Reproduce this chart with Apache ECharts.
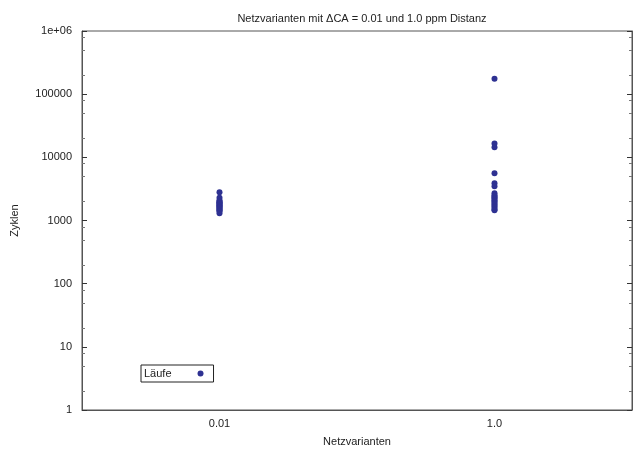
<!DOCTYPE html>
<html>
<head>
<meta charset="utf-8">
<script src="https://cdn.jsdelivr.net/npm/echarts@6/dist/echarts.min.js"></script>
<style>html,body{margin:0;padding:0;background:#fff}#c{width:633px;height:452px}</style>
</head>
<body>
<div id="c"></div>
<script>
const categories = ['0.01', '1.0'];
const runs001 = [2800, 2300, 2100, 2000, 1950, 1900, 1850, 1800, 1750, 1700, 1650, 1600, 1550, 1500, 1450, 1400, 1300];
const runs10 = [175000, 16500, 14500, 5600, 3900, 3500, 2700, 2500, 2400, 2300, 2200, 2100, 2000, 1900, 1800, 1700, 1600, 1500, 1450];
const minorTickValues = [2, 5, 8, 20, 50, 80, 200, 500, 800, 2000, 5000, 8000, 20000, 50000, 80000, 200000, 500000, 800000];

const FONT = 'Liberation Sans, Arial, sans-serif';
const pts = [];
runs001.forEach(v => pts.push([categories[0], v]));
runs10.forEach(v => pts.push([categories[1], v]));

const chart = echarts.init(document.getElementById('c'), null, {renderer: 'canvas'});
chart.setOption({
  animation: false,
  backgroundColor: '#fff',
  title: {
    text: 'Netzvarianten mit ΔCA = 0.01 und 1.0 ppm Distanz',
    left: 357, top: 8, textAlign: 'center',
    textStyle: {fontFamily: FONT, fontSize: 11, fontWeight: 'normal', color: '#222'}
  },
  legend: {
    data: ['Läufe'],
    left: 141, top: 365,
    orient: 'vertical',
    align: 'right',
    itemWidth: 8, itemHeight: 6, itemGap: 0,
    padding: [3, 10, 3, 3],
    borderColor: '#222', borderWidth: 1, borderRadius: 0,
    textStyle: {fontFamily: FONT, fontSize: 11, color: '#222', padding: [0, 20, 0, 0]}
  },
  grid: {left: 82, right: 1, top: 31, bottom: 38, show: true, borderColor: '#555', borderWidth: 1, containLabel: false},
  xAxis: {
    type: 'category', data: categories, boundaryGap: true,
    name: 'Netzvarianten', nameLocation: 'middle', nameGap: 26,
    nameTextStyle: {fontFamily: FONT, fontSize: 11, color: '#222'},
    axisLine: {lineStyle: {color: '#555'}},
    axisTick: {inside: true, length: 5, alignWithLabel: true, lineStyle: {color: '#333'}},
    axisLabel: {fontFamily: FONT, fontSize: 11, color: '#222', margin: 8},
    splitLine: {show: false}
  },
  yAxis: [{
    type: 'log', logBase: 10, min: 1, max: 1000000,
    name: 'Zyklen', nameLocation: 'middle', nameGap: 62, nameRotate: 90,
    nameTextStyle: {fontFamily: FONT, fontSize: 11, color: '#222'},
    axisLine: {show: true, lineStyle: {color: '#555'}},
    axisTick: {show: true, inside: true, length: 5, lineStyle: {color: '#333'}},
    axisLabel: {fontFamily: FONT, fontSize: 11, color: '#222', margin: 10,
      formatter: v => (v >= 1000000 ? '1e+06' : String(Math.round(v)))},
    splitLine: {show: false}
  }, {
    type: 'log', logBase: 10, min: 1, max: 1000000, position: 'right',
    axisLine: {show: true, lineStyle: {color: '#555'}},
    axisTick: {show: true, inside: true, length: 5, lineStyle: {color: '#333'}},
    axisLabel: {show: false},
    splitLine: {show: false}
  }],
  series: [{
    name: 'Läufe', type: 'scatter', data: pts,
    symbol: 'circle', symbolSize: 6,
    itemStyle: {color: '#2e3192', opacity: 1}
  }, {
    type: 'custom', silent: true, legendHoverLink: false,
    data: minorTickValues.map(v => [categories[0], v]),
    renderItem: function (params, api) {
      const p = api.coord([api.value(0), api.value(1)]);
      const cs = params.coordSys;
      const y = Math.round(p[1]) + 0.5;
      const style = {stroke: '#777', lineWidth: 1};
      return {type: 'group', children: [
        {type: 'line', shape: {x1: cs.x, y1: y, x2: cs.x + 3, y2: y}, style: style},
        {type: 'line', shape: {x1: cs.x + cs.width - 3, y1: y, x2: cs.x + cs.width, y2: y}, style: style}
      ]};
    }
  }]
});
</script>
</body>
</html>
